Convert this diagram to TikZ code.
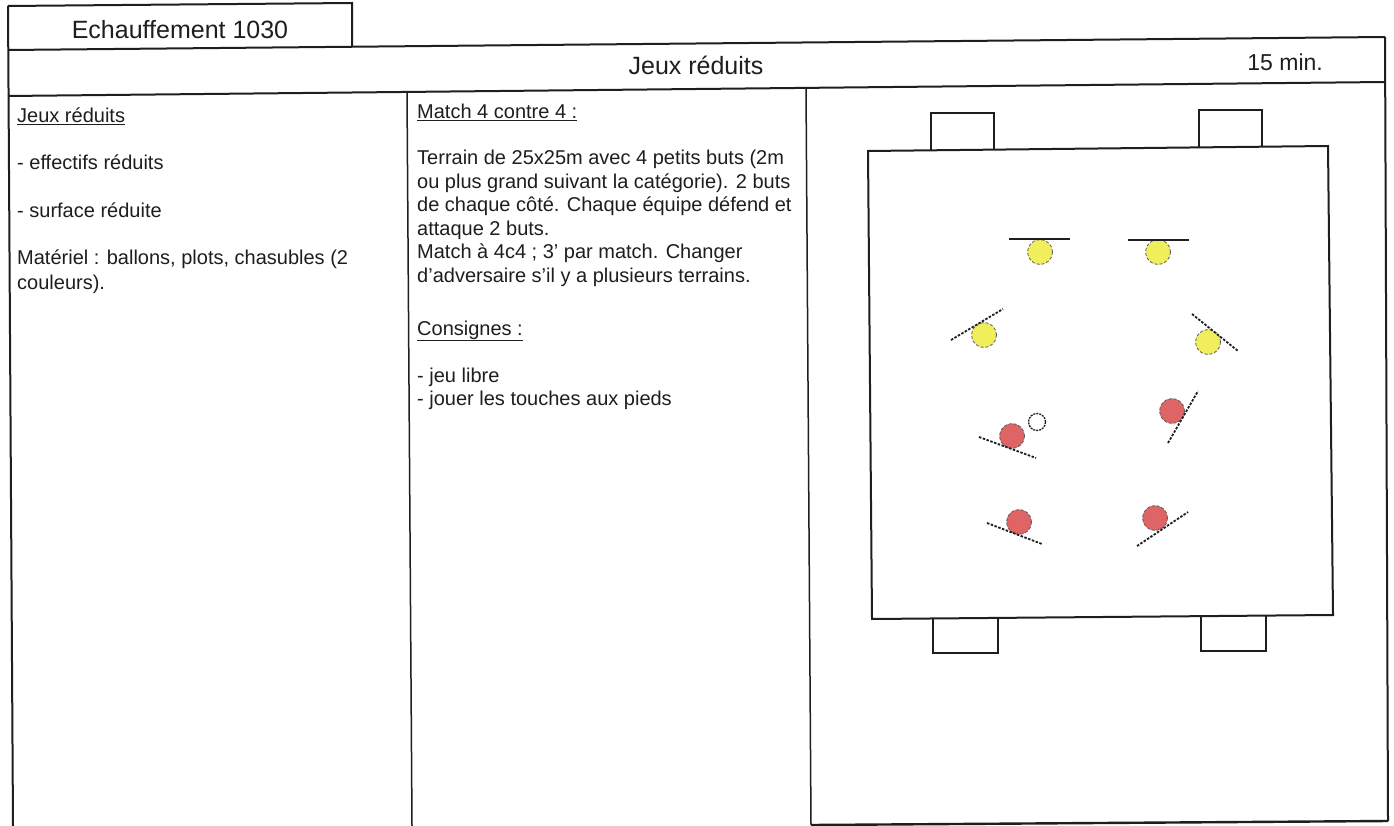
\documentclass[tikz,border=0pt]{standalone}
\usepackage{fontspec}
\setmainfont{Liberation Sans}
\definecolor{yel}{RGB}{240,238,90}
\definecolor{redp}{RGB}{222,100,102}
\definecolor{ink}{RGB}{30,30,30}
\begin{document}
\begin{tikzpicture}[x=1pt,y=-1pt,
  frame/.style={line width=2pt, draw=ink},
  thin frame/.style={line width=1.5pt, draw=ink},
  body/.style={anchor=base west, inner sep=0pt, text=ink, font=\fontsize{20}{24}\selectfont},
  head/.style={anchor=base, inner sep=0pt, text=ink, font=\fontsize{25}{30}\selectfont},
  yplayer/.style={circle, fill=yel, draw=gray!70!black, densely dashed, line width=0.8pt, minimum size=25pt, inner sep=0pt},
  rplayer/.style={circle, fill=redp, draw=gray!70!black, densely dashed, line width=0.8pt, minimum size=25pt, inner sep=0pt},
  ballst/.style={circle, fill=white, draw=ink, dash pattern=on 2pt off 1pt, line width=1.3pt, minimum size=17pt, inner sep=0pt},
  orient/.style={line width=1.8pt, draw=ink, dash pattern=on 2.5pt off 1.5pt},
  orientsolid/.style={line width=2pt, draw=ink}]
\useasboundingbox (0,0) rectangle (1394,826);
\fill[white] (0,0) rectangle (1394,826);

% --- header tab
\coordinate (tabTL) at (8,6);
\coordinate (tabTR) at (352,3);
\coordinate (tabBR) at (352,47);
\draw[frame] (tabBR) -- (tabTR) -- (tabTL);
\node[head] (tabtxt) at (180,39) {Echauffement 1030};

% --- table frame
\coordinate (tTL) at (8,50);
\coordinate (tTR) at (1385,37);
\coordinate (bL) at (8,96);
\coordinate (bR) at (1385,82);
\coordinate (leftTop) at (8,6);
\coordinate (leftBot) at (13,826);
\coordinate (rightBot) at (1388,821);
\draw[frame] (tTL) -- (tTR);
\draw[frame] (bL) -- (bR);
\draw[frame] (leftTop) -- (leftBot);
\draw[frame] (tTR) -- (rightBot);
\coordinate (d1T) at (407,92);
\coordinate (d1B) at (412,826);
\coordinate (d2T) at (806,88);
\coordinate (d2B) at (811,825);
\draw[thin frame] (d1T) -- (d1B);
\draw[thin frame] (d2T) -- (d2B);
\draw[frame, line width=2.4pt] (d2B) -- (rightBot);

% --- title row
\node[head] (title) at (696,75) {Jeux réduits};
\node[anchor=base east, inner sep=0pt, text=ink, font=\fontsize{23}{28}\selectfont] (dur) at (1323,71) {15 min.};

% --- left column
\node[body] (l1) at (17,123) {\underline{Jeux réduits}};
\node[body] (l2) at (17,170) {- effectifs réduits};
\node[body] (l3) at (17,218) {- surface réduite};
\node[body] (l4) at (17,265) {Matériel : ballons, plots, chasubles (2};
\node[body] (l5) at (17,289) {couleurs).};

% --- middle column
\node[body] (m0) at (417,119) {\underline{Match 4 contre 4 :}};
\node[body] (m1) at (417,165) {Terrain de 25x25m avec 4 petits buts (2m};
\node[body] (m2) at (417,188.5) {ou plus grand suivant la catégorie). 2 buts};
\node[body] (m3) at (417,212) {de chaque côté. Chaque équipe défend et};
\node[body] (m4) at (417,235.5) {attaque 2 buts.};
\node[body] (m5) at (417,259) {Match à 4c4 ; 3' par match. Changer};
\node[body] (m6) at (417,282.5) {d’adversaire s’il y a plusieurs terrains.};
\node[body] (m7) at (417,335) {\underline{Consignes :}};
\node[body] (m8) at (417,382) {- jeu libre};
\node[body] (m9) at (417,405) {- jouer les touches aux pieds};

% --- field
\coordinate (fTL) at (868,151);
\coordinate (fTR) at (1328,146);
\coordinate (fBR) at (1333,615);
\coordinate (fBL) at (872,619);
\draw[frame] (fTL) -- (fTR) -- (fBR) -- (fBL) -- cycle;
% goals
\draw[frame] (931,150.5) -- (931,113) -- (994,113) -- (994,150);
\draw[frame] (1199,147.5) -- (1199,110) -- (1262,110) -- (1262,147);
\draw[frame] (933,619) -- (933,653) -- (998,653) -- (998,618.5);
\draw[frame] (1201,616.5) -- (1201,651) -- (1266,651) -- (1266,616);

% --- yellow players
\node[yplayer] (y1) at (1040,252) {};
\node[yplayer] (y2) at (1158,252) {};
\node[yplayer] (y3) at (984,335) {};
\node[yplayer] (y4) at (1208,342) {};
\draw[orientsolid] (1009,239) -- (1070,239);
\draw[orientsolid] (1128,240) -- (1189,240);
\draw[orient] (951,340) -- (1003,309);
\draw[orient] (1192,314) -- (1238,351);

% --- red players
\node[rplayer] (r1) at (1012,436) {};
\node[rplayer] (r2) at (1172,411) {};
\node[rplayer] (r3) at (1019,522) {};
\node[rplayer] (r4) at (1155,518) {};
\node[ballst] (ball) at (1037,422) {};
\draw[orient] (979,437) -- (1036,458);
\draw[orient] (1168,443) -- (1198,391);
\draw[orient] (987,523) -- (1042,544);
\draw[orient] (1137,546) -- (1188,512);
\end{tikzpicture}
\end{document}
